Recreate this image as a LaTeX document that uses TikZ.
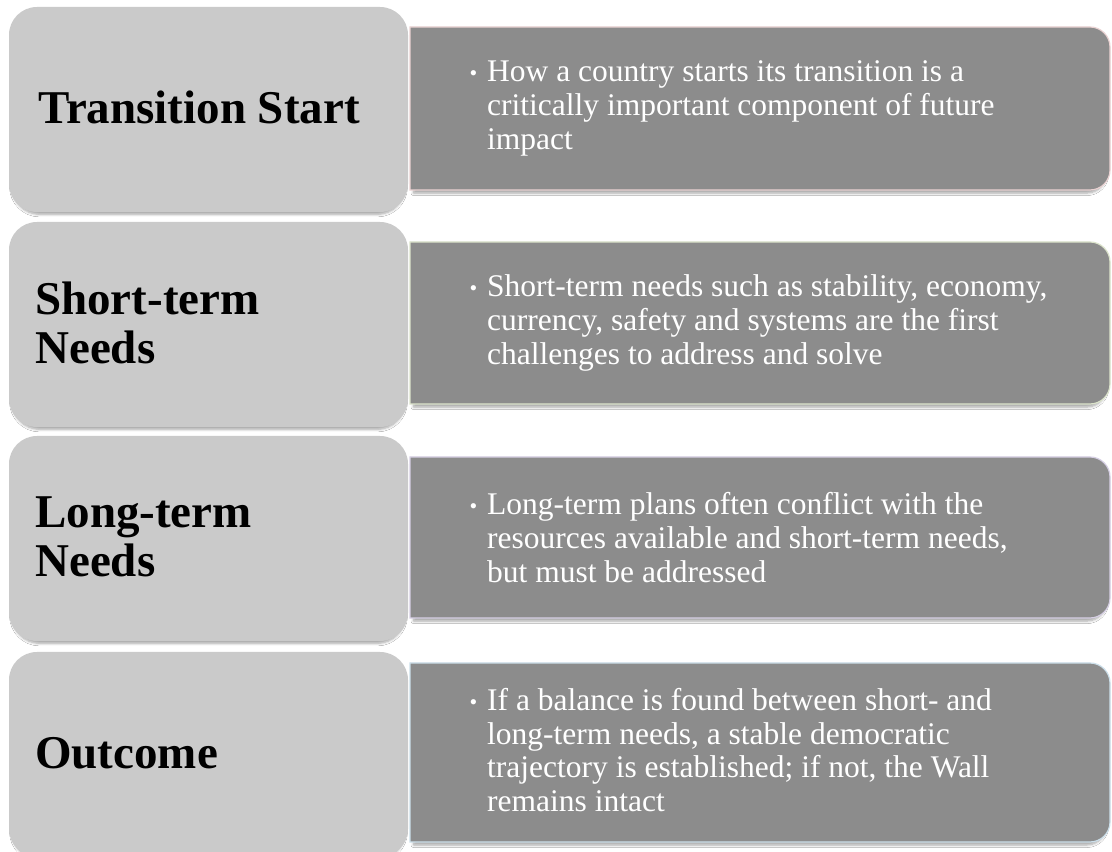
\documentclass[tikz,border=0pt]{standalone}
\usepackage{fontspec}
\setmainfont{Liberation Serif}
\usetikzlibrary{shadows.blur}
\definecolor{lboxc}{HTML}{CACACA}
\definecolor{rboxc}{HTML}{8C8C8C}
\definecolor{edgeA}{HTML}{EAD2D2}
\definecolor{edgeB}{HTML}{DCE4CC}
\definecolor{edgeC}{HTML}{D6CFE4}
\definecolor{edgeD}{HTML}{CCDFEA}
\tikzset{
  lbox/.style={rectangle, rounded corners=28pt, fill=lboxc, draw=none,
    minimum width=399pt, minimum height=205pt, inner sep=0pt,
    blur shadow={shadow xshift=0pt, shadow yshift=-4pt, shadow scale=0.985, shadow blur radius=2.5pt, shadow blur steps=6, shadow opacity=35}},
  rbox/.style={fill=rboxc, line width=1.2pt,
    blur shadow={shadow xshift=0pt, shadow yshift=-4pt, shadow scale=0.99, shadow blur radius=2.5pt, shadow blur steps=6, shadow opacity=35}},
  ltext/.style={anchor=west, inner sep=0pt, align=left, text=black,
    font=\fontsize{47}{49}\selectfont\bfseries},
  rtext/.style={anchor=west, inner sep=0pt, align=left, text=white,
    font=\fontsize{31.5}{33.8}\selectfont},
}
\newcommand{\bul}{\llap{{\fontsize{22}{22}\selectfont\raisebox{1pt}{\textbullet}}\hspace{10pt}}}
\begin{document}
\begin{tikzpicture}[x=1pt,y=1pt]
\useasboundingbox[fill=white] (0,0) rectangle (1112,852);
% left boxes
\node[lbox] (l1) at (208.5,742.5) {};
\node[lbox] (l2) at (208.5,527.5) {};
\node[lbox] (l3) at (208.5,313.5) {};
\node[lbox] (l4) at (208.5,97.5) {};
% right boxes
\path[rbox, draw=edgeA] (410,662) -- (410,825) -- (1090,825) arc[start angle=90,end angle=0,radius=20] -- (1110,682) arc[start angle=0,end angle=-90,radius=20] -- cycle;
\path[rbox, draw=edgeB] (410,448) -- (410,610) -- (1090,610) arc[start angle=90,end angle=0,radius=20] -- (1110,468) arc[start angle=0,end angle=-90,radius=20] -- cycle;
\path[rbox, draw=edgeC] (410,234) -- (410,395) -- (1090,395) arc[start angle=90,end angle=0,radius=20] -- (1110,254) arc[start angle=0,end angle=-90,radius=20] -- cycle;
\path[rbox, draw=edgeD] (410,10) -- (410,189) -- (1090,189) arc[start angle=90,end angle=0,radius=20] -- (1110,30) arc[start angle=0,end angle=-90,radius=20] -- cycle;
% left texts
\node[ltext] (t1) at (38,745) {Transition Start};
\node[ltext] (t2) at (35,529) {Short-term\\Needs};
\node[ltext] (t3) at (35,315) {Long-term\\Needs};
\node[ltext] (t4) at (35,99) {Outcome};
% right texts
\node[rtext] (d1) at (487,743.5) {\bul How a country starts its transition is a\\critically important component of future\\impact};
\node[rtext] (d2) at (487,529) {\bul Short-term needs such as stability, economy,\\currency, safety and systems are the first\\challenges to address and solve};
\node[rtext] (d3) at (487,314.5) {\bul Long-term plans often conflict with the\\resources available and short-term needs,\\but must be addressed};
\node[rtext] (d4) at (487,102) {\bul If a balance is found between short- and\\long-term needs, a stable democratic\\trajectory is established; if not, the Wall\\remains intact};
\end{tikzpicture}
\end{document}
